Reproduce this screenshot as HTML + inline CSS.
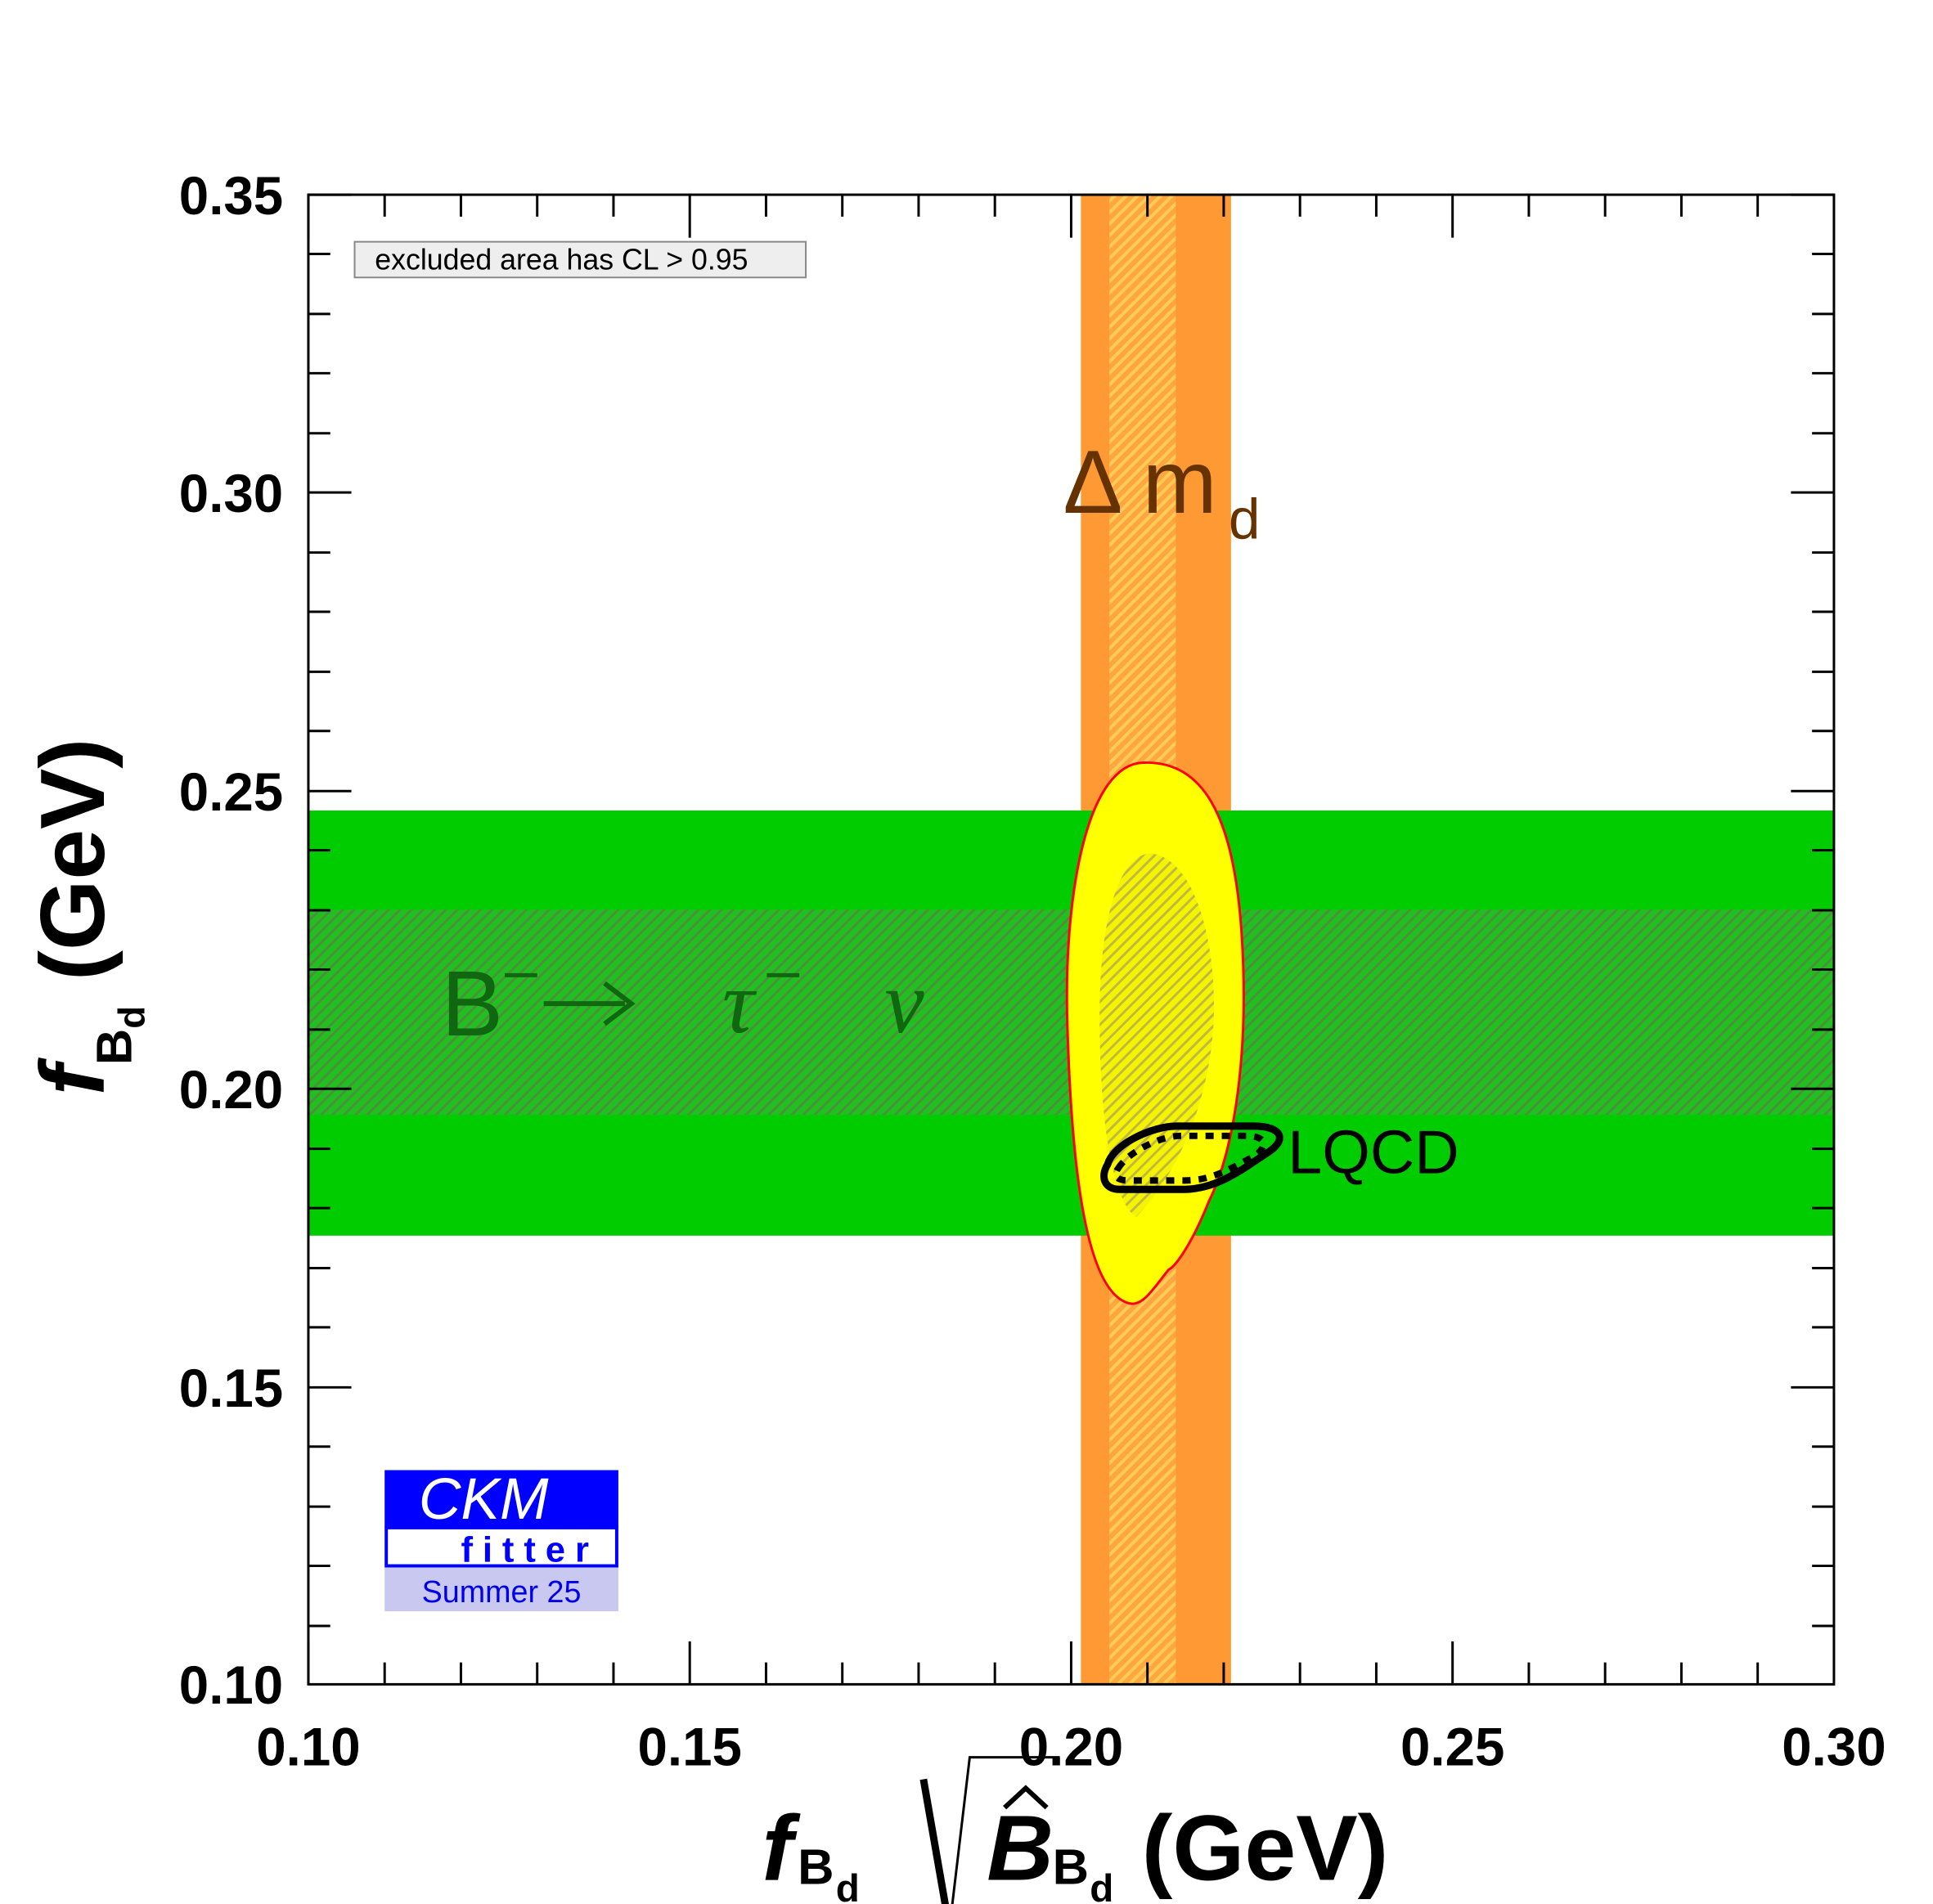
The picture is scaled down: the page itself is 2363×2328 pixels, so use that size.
<!DOCTYPE html>
<html><head><meta charset="utf-8"><style>html,body{margin:0;padding:0;background:#fff}svg{display:block}</style></head>
<body>
<svg width="2363" height="2328" viewBox="0 0 2363 2328" xmlns="http://www.w3.org/2000/svg" font-family="Liberation Sans, sans-serif">
<defs>
<pattern id="hg" patternUnits="userSpaceOnUse" width="10" height="10" patternTransform="rotate(45)">
<rect width="10" height="10" fill="#1fc01f"/><rect width="3" height="10" fill="#4d8f3a"/></pattern>
<pattern id="ho" patternUnits="userSpaceOnUse" width="10" height="10" patternTransform="rotate(45)">
<rect width="10" height="10" fill="#ffa640"/><rect width="4" height="10" fill="#ffcc55"/></pattern>
<pattern id="hy" patternUnits="userSpaceOnUse" width="10" height="10" patternTransform="rotate(45)">
<rect width="10" height="10" fill="#f4f400"/><rect width="3" height="10" fill="#c0b840"/></pattern>
<clipPath id="cp"><rect x="380" y="240" width="1880" height="1836"/></clipPath>
</defs>
<g transform="scale(0.992)">
<g clip-path="url(#cp)">
<rect x="1332" y="240" width="185" height="1836" fill="#ff9933"/>
<rect x="1367" y="240" width="82" height="1836" fill="url(#ho)"/>
<rect x="380" y="999" width="1880" height="524" fill="#00cc00"/>
<rect x="380" y="1121" width="1880" height="253" fill="url(#hg)"/>
<path d="M1410,940 C1480,938 1520,1000 1530,1150 C1540,1300 1520,1420 1490,1480 C1470,1530 1450,1560 1440,1565 C1420,1590 1410,1607 1395,1607 C1340,1600 1320,1450 1315,1250 C1312,1100 1340,940 1410,940 Z" fill="#ffff00" stroke="#ff0000" stroke-width="3"/>
<path d="M1420,1052 C1470,1060 1496,1150 1496,1240 C1496,1350 1450,1450 1400,1500 C1370,1480 1355,1380 1355,1250 C1355,1130 1380,1050 1420,1052Z" fill="url(#hy)"/>
<path d="M1365,1435 C1372,1410 1420,1388 1450,1388 L1545,1388 C1580,1388 1588,1405 1560,1422 C1530,1442 1500,1465 1460,1466 L1380,1466 C1360,1466 1356,1450 1365,1435 Z" fill="none" stroke="#000" stroke-width="9"/>
<path d="M1378,1440 C1390,1420 1430,1400 1455,1400 L1540,1400 C1565,1402 1560,1418 1540,1428 C1510,1444 1490,1455 1460,1455 L1390,1455 C1375,1455 1372,1448 1378,1440 Z" fill="none" stroke="#000" stroke-width="8" stroke-dasharray="10 10"/>
</g>
<text x="1587" y="1446" font-size="76">LQCD</text>
<text x="1310" y="632" font-size="110" fill="#663300">Δ m</text><text x="1514" y="664" font-size="70" fill="#663300">d</text>
<text x="544" y="1276" font-size="114" fill="#116611">B</text>
<path d="M622,1202 h40" stroke="#116611" stroke-width="5"/>
<path d="M670,1237 h100 M745,1212 L778,1237 L745,1262" stroke="#116611" stroke-width="6" fill="none"/>
<text x="890" y="1272" font-size="110" fill="#116611" font-family="Liberation Serif, serif" font-style="italic">τ</text>
<path d="M945,1202 h40" stroke="#116611" stroke-width="5"/>
<text x="1090" y="1272" font-size="110" fill="#116611" font-family="Liberation Serif, serif" font-style="italic">ν</text>
<rect x="437" y="298" width="556" height="44" fill="#eeeeee" stroke="#888" stroke-width="2"/>
<text x="462" y="332" font-size="36">excluded area has CL &gt; 0.95</text>
<rect x="380" y="240" width="1880" height="1836" fill="none" stroke="#000" stroke-width="3"/>
<g stroke="#000" stroke-width="3">
<path d="M380,240v53M380,2076v-53M474,240v27M474,2076v-27M568,240v27M568,2076v-27M662,240v27M662,2076v-27M756,240v27M756,2076v-27M850,240v53M850,2076v-53M944,240v27M944,2076v-27M1038,240v27M1038,2076v-27M1132,240v27M1132,2076v-27M1226,240v27M1226,2076v-27M1320,240v53M1320,2076v-53M1414,240v27M1414,2076v-27M1508,240v27M1508,2076v-27M1602,240v27M1602,2076v-27M1696,240v27M1696,2076v-27M1790,240v53M1790,2076v-53M1884,240v27M1884,2076v-27M1978,240v27M1978,2076v-27M2072,240v27M2072,2076v-27M2166,240v27M2166,2076v-27"/>
<path d="M380,240h53M2260,240h-53M380,313h27M2260,313h-27M380,387h27M2260,387h-27M380,460h27M2260,460h-27M380,534h27M2260,534h-27M380,607h53M2260,607h-53M380,681h27M2260,681h-27M380,754h27M2260,754h-27M380,828h27M2260,828h-27M380,901h27M2260,901h-27M380,975h53M2260,975h-53M380,1048h27M2260,1048h-27M380,1122h27M2260,1122h-27M380,1195h27M2260,1195h-27M380,1269h27M2260,1269h-27M380,1342h53M2260,1342h-53M380,1416h27M2260,1416h-27M380,1489h27M2260,1489h-27M380,1563h27M2260,1563h-27M380,1636h27M2260,1636h-27M380,1710h53M2260,1710h-53M380,1783h27M2260,1783h-27M380,1857h27M2260,1857h-27M380,1930h27M2260,1930h-27M380,2004h27M2260,2004h-27"/>
</g>
<g font-size="66" font-weight="bold" text-anchor="end">
<text x="349" y="264">0.35</text><text x="349" y="631">0.30</text><text x="349" y="999">0.25</text><text x="349" y="1366">0.20</text><text x="349" y="1734">0.15</text><text x="349" y="2100">0.10</text>
</g>
<g font-size="66" font-weight="bold" text-anchor="middle">
<text x="380" y="2176">0.10</text><text x="850" y="2176">0.15</text><text x="1320" y="2176">0.20</text><text x="1790" y="2176">0.25</text><text x="2260" y="2176">0.30</text>
</g>
<rect x="474" y="1812" width="288" height="71" fill="#0000ff"/>
<text x="516" y="1872" font-size="72" fill="#fff" font-style="italic">CKM</text>
<rect x="476" y="1883" width="284" height="47" fill="#fff" stroke="#0000ff" stroke-width="4"/>
<text x="568" y="1925" font-size="44" font-weight="bold" fill="#0000ff" letter-spacing="12">fitter</text>
<rect x="474" y="1932" width="288" height="54" fill="#c8c8f0"/>
<text x="618" y="1975" font-size="38" fill="#0000ee" text-anchor="middle">Summer 25</text>
<g transform="translate(128,1350) rotate(-90)">
<text x="0" y="0" font-size="112" font-weight="bold"><tspan font-style="italic">f</tspan><tspan font-size="62" dy="34">B</tspan><tspan font-size="46" dy="16">d</tspan><tspan dy="-50"> (GeV)</tspan></text>
</g>
<g transform="translate(0,50)">
<text x="939" y="2267" font-size="114" font-weight="bold" font-style="italic">f</text>
<text x="983" y="2272" font-size="62" font-weight="bold">B</text>
<text x="1030" y="2294" font-size="48" font-weight="bold">d</text>
<path d="M1138,2143 L1170,2327" stroke="#000" stroke-width="9" fill="none"/>
<path d="M1170,2327 L1195,2116 L1306,2116" stroke="#000" stroke-width="3" fill="none"/>
<text x="1216" y="2267" font-size="114" font-weight="bold" font-style="italic">B</text>
<path d="M1238,2178 L1264,2154 L1290,2178" stroke="#000" stroke-width="6" fill="none"/>
<text x="1297" y="2272" font-size="62" font-weight="bold">B</text>
<text x="1343" y="2294" font-size="48" font-weight="bold">d</text>
<text x="1407" y="2267" font-size="114" font-weight="bold">(GeV)</text>
</g>
</g>
</svg>
</body></html>
